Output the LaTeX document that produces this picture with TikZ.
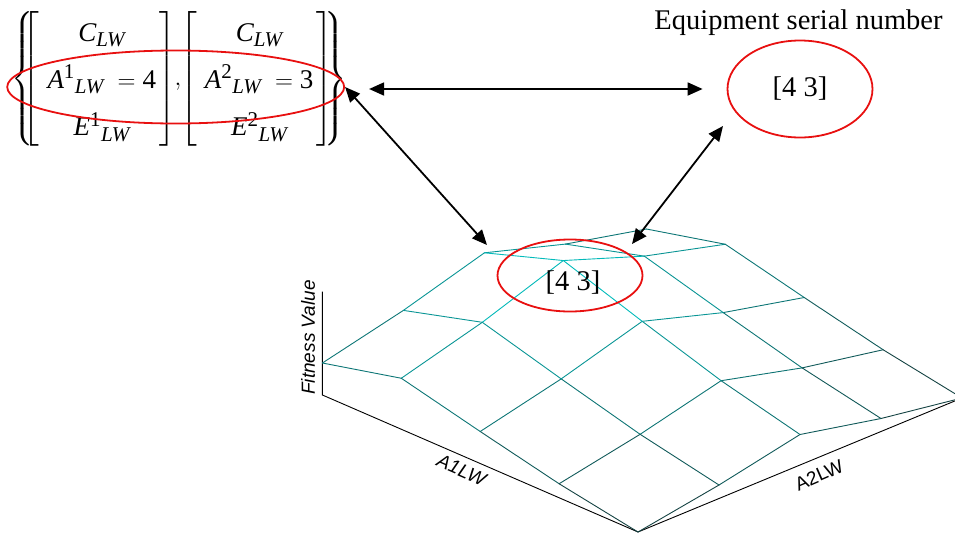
\documentclass[tikz,border=0pt]{standalone}
\usepackage{amsmath}
\usepackage{fontspec}
\setmainfont{Liberation Serif}
\setsansfont{Liberation Sans}
\usetikzlibrary{arrows.meta,positioning,calc,shapes.geometric}

\definecolor{ringred}{RGB}{232,16,16}
\definecolor{meshlo}{RGB}{22,58,58}
\definecolor{meshhi}{RGB}{0,208,208}

% fitness surface heights: A1 part and A2 part
\newcommand{\fvals}{{0,14,32,51,32}}
\newcommand{\gvals}{{0,13.5,30.5,13,0}}
% letters of the vectors, in the text italic
\newcommand{\tv}[1]{\text{\itshape #1}}
\newcommand{\tn}[1]{\text{\upshape #1}}
\newcommand{\LWsub}{\tv{LW}}
% delimiters of a fixed height
\newcommand{\lbr}[2]{{\left#1\vcenter{\hbox{\rule{0pt}{#2}}}\right.}}
\newcommand{\rbr}[2]{{\left.\vcenter{\hbox{\rule{0pt}{#2}}}\right#1}}
\DeclareMathSizes{27}{27}{21}{16}

\begin{document}
\begin{tikzpicture}[x=1pt,y=-1pt,
  ring/.style={ellipse,draw=ringred,line width=1.8pt,inner sep=0pt},
  meshline/.style={line width=0.9pt,line cap=round},
  axisline/.style={line width=0.9pt,black},
  dblarrow/.style={{Triangle[length=15pt,width=13pt]}-{Triangle[length=15pt,width=13pt]},line width=1.8pt},
  serif/.style={font=\fontsize{28.5}{33}\selectfont},
  axlabel/.style={font=\sffamily\fontsize{19}{22}\selectfont}]

 \useasboundingbox (0,0) rectangle (955,533);
 \clip (0,0) rectangle (955,533);

 % ---- mesh vertices ----
 \foreach \i in {0,...,4} {
  \foreach \j in {0,...,4} {
   \pgfmathsetmacro\fa{\fvals[\i]}
   \pgfmathsetmacro\ga{\gvals[\j]}
   \pgfmathsetmacro\zz{\fa+\ga+0.013*\fa*\ga}
   \expandafter\xdef\csname zv\i\j\endcsname{\zz}
   \coordinate (v-\i-\j) at ({638-78.9*\i+81*\j},{532-34.25*\i-33.5*\j-\zz});
  }
 }

 % ---- axes ----
 \coordinate (orig) at (638,532);
 \coordinate (a1end) at (322.4,395);
 \coordinate (a2end) at (962,398);
 \coordinate (ztop) at (322.4,291.7);
 \draw[axisline] (ztop) -- (a1end) -- (orig) -- (a2end);

 % ---- mesh lines ----
 \foreach \i in {0,...,4} {
  \foreach \j [evaluate=\j as \k using int(\j+1)] in {0,...,3} {
   \edef\za{\csname zv\i\j\endcsname}\edef\zb{\csname zv\i\k\endcsname}
   \pgfmathtruncatemacro\pct{50*(\za+\zb)/102}
   \draw[meshline,meshhi!\pct!meshlo] (v-\i-\j) -- (v-\i-\k);
  }
 }
 \foreach \j in {0,...,4} {
  \foreach \i [evaluate=\i as \k using int(\i+1)] in {0,...,3} {
   \edef\za{\csname zv\i\j\endcsname}\edef\zb{\csname zv\k\j\endcsname}
   \pgfmathtruncatemacro\pct{50*(\za+\zb)/102}
   \draw[meshline,meshhi!\pct!meshlo] (v-\i-\j) -- (v-\k-\j);
  }
 }

 % ---- axis labels ----
 \node[axlabel,rotate=90] (zlbl) at (308,337.5) {\itshape Fitness Value};
 \node[axlabel,rotate=-23.5] (a1lbl) at (461.5,470) {\itshape A1LW};
 \node[axlabel,rotate=23.5] (a2lbl) at (819,475) {A2LW};

 % ---- peak on the surface ----
 \node[ring,minimum width=145pt,minimum height=72pt] (peakring) at (570,275.5) {};
 \node[serif] (peaklbl) at (573,283) {[4 3]};

 % ---- serial number ----
 \node[ring,serif,minimum width=145pt,minimum height=97pt] (serial) at (800,89) {[4 3]};
 \node[serif,anchor=base] (serialcap) at (798.5,29) {Equipment serial number};

 % ---- the two parameter vectors ----
 \node[inner sep=0pt,font=\fontsize{27}{31}\selectfont] (mats) at (179,79)
   {\renewcommand{\arraystretch}{1.53}\delimitershortfall=0pt\delimiterfactor=1000\nulldelimiterspace=0pt
    $\lbr{\{}{122pt}\hspace{-11pt}\lbr{[}{127pt}\hspace{8pt}\begin{matrix} \tv{C}_{\LWsub}\\ \tv{A}^{\tn{1}}{}_{\LWsub}\;=\tn{4}\\ \tv{E}^{\tn{1}}{}_{\LWsub}\end{matrix}\hspace{3pt}\rbr{]}{127pt}\hspace{-1pt}{,}\hspace{-1pt}%
     \lbr{[}{127pt}\hspace{8pt}\begin{matrix} \tv{C}_{\LWsub}\\ \tv{A}^{\tn{2}}{}_{\LWsub}\;=\tn{3}\\ \tv{E}^{\tn{2}}{}_{\LWsub}\end{matrix}\hspace{3pt}\rbr{]}{127pt}\hspace{-9pt}\rbr{\}}{122pt}$};
 \node[ring,minimum width=337pt,minimum height=73pt] (rowring) at (175.7,87) {};

 % ---- links ----
 \coordinate (tipL) at (487,245);
 \coordinate (tipR) at (632,244);
 \coordinate (serialtip) at (723,126);
 \draw[dblarrow,shorten <=24pt,shorten >=24pt] (rowring.east |- serial.west) -- (serial.west);
 \draw[dblarrow] (rowring.east) -- (tipL);
 \draw[dblarrow] (tipR) -- (serialtip);
\end{tikzpicture}
\end{document}
